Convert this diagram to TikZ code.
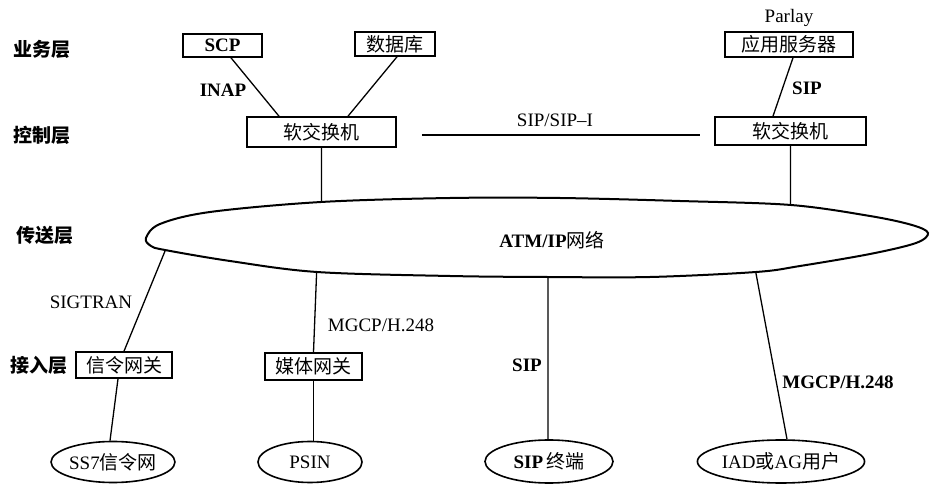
\documentclass[tikz,border=0pt]{standalone}
\usepackage{fontspec}
\setmainfont{Liberation Serif}
\newfontfamily\cjk{Noto Sans CJK SC}
\newcommand\sz{\fontsize{19}{22}\selectfont}
\usetikzlibrary{shapes.geometric,intersections}
\tikzset{
  box/.style={draw, line width=1.6pt, inner sep=0pt, font=\sz\cjk},
  oval/.style={draw, ellipse, line width=1.6pt, inner sep=0pt, minimum width=106pt, minimum height=41pt, font=\sz},
  lay/.style={font=\sz\cjk\bfseries, inner sep=0pt},
  lbl/.style={inner sep=0pt, font=\sz},
  blbl/.style={inner sep=0pt, font=\sz\bfseries},
  conn/.style={line width=1.3pt},
}
\begin{document}
\begin{tikzpicture}[x=1pt,y=-1pt]
\useasboundingbox (0,0) rectangle (930,486);
% layer labels
\node[lay] (l1) at (42,49) {业务层};
\node[lay] (l2) at (42,135) {控制层};
\node[lay] (l3) at (45,235) {传送层};
\node[lay] (l4) at (39,365) {接入层};
% boxes
\node[box, minimum width=79pt, minimum height=23pt, font=\sz\bfseries] (scp) at (222.5,45.5) {SCP};
\node[box, minimum width=80pt, minimum height=24pt] (db) at (395,44) {数据库};
\node[box, minimum width=128pt, minimum height=25pt] (as) at (789,44.5) {应用服务器};
\node[lbl] (parlay) at (789,18) {Parlay};
\node[box, minimum width=149pt, minimum height=30pt] (lss) at (321.5,132) {软交换机};
\node[box, minimum width=151pt, minimum height=28pt] (rss) at (790.5,131) {软交换机};
\node[box, minimum width=96pt, minimum height=26pt] (sg) at (124,365) {信令网关};
\node[box, minimum width=97pt, minimum height=27pt] (mg) at (313.5,366.5) {媒体网关};
% bottom ovals
\node[oval, minimum width=110pt] (ss7) at (113,462) {SS7{\cjk 信令网}};
\node[oval, minimum width=104pt] (psin) at (310,462) {PSIN};
\node[oval, minimum width=128pt, minimum height=43pt] (sipt) at (549,461.5) {\textbf{SIP}\,{\cjk 终端}};
\node[oval, minimum width=138pt, minimum height=43pt] (iad) at (781,461.5) {IAD{\cjk 或}AG{\cjk 用户}};
% network
\draw[line width=2pt, name path=net] plot[smooth cycle, tension=0.55] coordinates {
 (146,238) (160,224) (210,212) (321,202) (450,198) (560,198) (680,201) (791,205)
 (870,216) (912,225) (928,233) (916,243) (870,254) (800,266) (756,272) (650,277)
 (547,277) (450,276) (317,272) (230,261) (165,250) (151,246)};
\node[blbl] (atm) at (552,240) {ATM/IP{\cjk\mdseries 网络}};
% intersections
\path[name path=v1] (lss.south) -- ++(0,100);
\path[name intersections={of=v1 and net, sort by=v1}] coordinate (e1) at (intersection-1);
\path[name path=v2] (rss.south) -- ++(0,100);
\path[name intersections={of=v2 and net, sort by=v2}] coordinate (e2) at (intersection-1);
\path[name path=v3] (sg.north) -- ++(55.3,-135);
\path[name intersections={of=v3 and net, sort by=v3}] coordinate (e3) at (intersection-1);
\path[name path=v4] (mg.north) -- ++(4.7,-120);
\path[name intersections={of=v4 and net, sort by=v4}] coordinate (e4) at (intersection-1);
\path[name path=v5] ([xshift=-1pt]sipt.north) -- ++(0,-200);
\path[name intersections={of=v5 and net, sort by=v5}] coordinate (e5) at (intersection-1);
\path[name path=v6] ([xshift=6pt]iad.north) -- ++(-58,-310);
\path[name intersections={of=v6 and net, sort by=v6}] coordinate (e6) at (intersection-1);
% connectors
\draw[conn] ([xshift=8.5pt]scp.south) -- ([xshift=-42.5pt]lss.north);
\draw[conn] ([xshift=2pt]db.south) -- ([xshift=26.5pt]lss.north);
\draw[conn] ([xshift=4pt]as.south) -- ([xshift=-17.5pt]rss.north);
\coordinate (hl) at ([xshift=25pt,yshift=-3pt]lss.east);
\coordinate (hr) at ([xshift=-14pt]rss.west);
\draw[conn] (hl) -- (hl -| hr);
\draw[conn] (lss.south) -- (e1);
\draw[conn] (rss.south) -- (e2);
\draw[conn] (e3) -- (sg.north);
\draw[conn] (e4) -- (mg.north);
\draw[conn] (e5) -- ([xshift=-1pt]sipt.north);
\draw[conn] (e6) -- ([xshift=6pt]iad.north);
\draw[conn] ([xshift=-6pt]sg.south) -- ([xshift=-3pt]ss7.north);
\draw[conn] (mg.south) -- (mg.south |- psin.north);
% labels
\node[blbl] (inap) at (223,90) {INAP};
\node[blbl] (sip1) at (807,88) {SIP};
\node[lbl] (sipi) at (555,120) {SIP/SIP–I};
\node[lbl] (sigtran) at (91,302) {SIGTRAN};
\node[lbl] (mgcp1) at (381,325) {MGCP/H.248};
\node[blbl] (sip2) at (527,365) {SIP};
\node[blbl] (mgcp2) at (838,382) {MGCP/H.248};
\end{tikzpicture}
\end{document}
